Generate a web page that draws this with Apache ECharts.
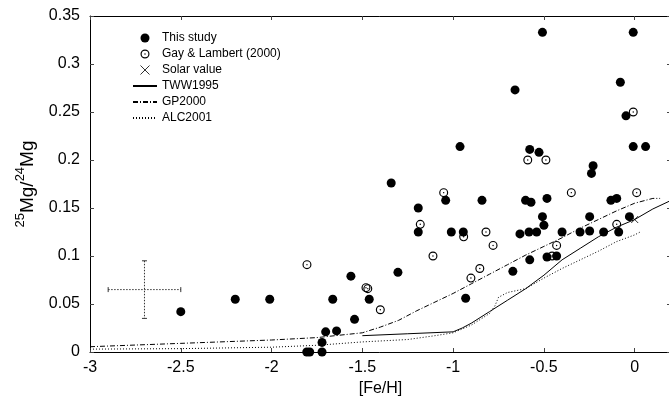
<!DOCTYPE html>
<html>
<head>
<meta charset="utf-8">
<script src="https://cdn.jsdelivr.net/npm/echarts@6/dist/echarts.min.js"></script>
<style>html,body{margin:0;padding:0;background:#fff}#c{width:669px;height:403px}</style>
</head>
<body>
<div id="c"></div>
<script>
// ---- data ----
const xTicks = [-3, -2.5, -2, -1.5, -1, -0.5, 0];
const yTicks = [0, 0.05, 0.1, 0.15, 0.2, 0.25, 0.3, 0.35];

const thisStudy = [
  [-2.50,0.042],[-2.20,0.055],[-2.01,0.055],[-1.806,0.000],[-1.79,0.000],[-1.722,0.000],
  [-1.722,0.010],[-1.702,0.021],[-1.642,0.022],[-1.663,0.055],[-1.563,0.079],[-1.543,0.034],
  [-1.462,0.055],[-1.341,0.176],[-1.304,0.083],[-1.192,0.150],[-1.192,0.125],[-1.041,0.158],
  [-1.010,0.125],[-0.962,0.214],[-0.944,0.125],[-0.931,0.056],[-0.841,0.158],[-0.671,0.084],
  [-0.659,0.273],[-0.632,0.123],[-0.601,0.158],[-0.578,0.211],[-0.582,0.125],[-0.578,0.096],
  [-0.571,0.156],[-0.540,0.125],[-0.527,0.208],[-0.508,0.333],[-0.508,0.141],[-0.500,0.132],
  [-0.483,0.160],[-0.483,0.099],[-0.430,0.100],[-0.400,0.125],[-0.301,0.125],[-0.248,0.141],
  [-0.248,0.126],[-0.238,0.186],[-0.229,0.194],[-0.171,0.125],[-0.131,0.158],[-0.099,0.160],
  [-0.088,0.125],[-0.079,0.281],[-0.048,0.246],[-0.029,0.141],[-0.008,0.333],[-0.008,0.214],
  [0.060,0.214]
];

const gayLambert = [
  [-1.805,0.091],[-1.48,0.067],[-1.47,0.066],[-1.401,0.044],[-1.181,0.133],[-1.111,0.100],
  [-1.052,0.166],[-0.942,0.120],[-0.902,0.077],[-0.853,0.087],[-0.819,0.125],[-0.780,0.111],
  [-0.589,0.200],[-0.489,0.200],[-0.455,0.100],[-0.430,0.111],[-0.349,0.166],[-0.099,0.133],
  [-0.008,0.250],[0.011,0.166]
];

const solarValue = [[0.0, 0.138]];

const tww1995 = [
  [-1.5,0.017],[-1.25,0.019],[-1.0,0.021],[-0.95,0.025],[-0.9,0.030],[-0.8,0.042],
  [-0.7,0.054],[-0.6,0.066],[-0.5,0.080],[-0.4,0.096],[-0.3,0.108],[-0.2,0.120],
  [-0.1,0.130],[0.0,0.138],[0.1,0.149],[0.19,0.157]
];

const gp2000 = [
  [-3.0,0.0055],[-2.5,0.009],[-2.0,0.0125],[-1.75,0.015],[-1.5,0.020],[-1.4,0.026],
  [-1.3,0.033],[-1.2,0.043],[-1.1,0.052],[-1.0,0.061],[-0.9,0.071],[-0.8,0.081],
  [-0.7,0.091],[-0.6,0.101],[-0.5,0.110],[-0.4,0.119],[-0.3,0.129],[-0.2,0.138],
  [-0.1,0.147],[0.0,0.155],[0.1,0.160],[0.14,0.160]
];

const alc2001 = [
  [-3.0,0.003],[-2.5,0.0035],[-2.0,0.005],[-1.75,0.007],[-1.5,0.0105],[-1.25,0.013],
  [-1.1,0.017],[-1.0,0.020],[-0.9,0.028],[-0.8,0.040],[-0.77,0.048],[-0.75,0.057],
  [-0.7,0.062],[-0.6,0.066],[-0.5,0.077],[-0.4,0.087],[-0.3,0.096],[-0.2,0.105],
  [-0.1,0.115],[0.0,0.122],[0.03,0.125]
];

// typical error: [x, y, dx, dy]
const errorBar = [[-2.7, 0.065, 0.2, 0.03]];

// ---- chart ----
const FONT = 'Liberation Sans';
const openDot = 'path://M10 0A10 10 0 1 1 9.99 0Z M10 2.6A7.4 7.4 0 1 0 10.01 2.6Z M10 8.4A1.6 1.6 0 1 1 9.99 8.4Z';
const cross = 'path://M0 0L10 10M10 0L0 10';

const chart = echarts.init(document.getElementById('c'), null, {renderer: 'canvas'});

function fmtX(v) {
  return xTicks.some(t => Math.abs(t - v) < 1e-9) ? String(v) : '';
}

const axisCommon = {
  axisLine: {show: true, onZero: false, lineStyle: {color: '#000', width: 1}},
  axisTick: {show: true, inside: true, length: 4, lineStyle: {color: '#444', width: 1}},
  splitLine: {show: false},
  minorTick: {show: false}
};

const hideSym = {opacity: 0, color: 'transparent', borderWidth: 0};

chart.setOption({
  animation: false,
  backgroundColor: '#fff',
  textStyle: {fontFamily: FONT, color: '#000'},
  grid: {left: 90, right: -2, top: 16, bottom: 51, containLabel: false, outerBoundsMode: 'none'},
  legend: {
    orient: 'vertical',
    left: 127, top: 26,
    itemWidth: 24, itemHeight: 9, itemGap: 2,
    textStyle: {fontFamily: FONT, fontSize: 12, color: '#000', lineHeight: 14},
    data: [
      {name: 'This study', icon: 'circle'},
      {name: 'Gay & Lambert (2000)', icon: openDot},
      {name: 'Solar value', icon: cross, itemStyle: {color: 'none', borderColor: '#000', borderWidth: 1}},
      {name: 'TWW1995', itemStyle: hideSym},
      {name: 'GP2000', itemStyle: hideSym},
      {name: 'ALC2001', itemStyle: hideSym}
    ],
    selectedMode: false
  },
  xAxis: [
    Object.assign({}, axisCommon, {
      type: 'value', position: 'bottom', min: -3, max: 0.2, interval: 0.5,
      axisLabel: {fontFamily: FONT, fontSize: 16, color: '#000', margin: 8, formatter: fmtX, showMaxLabel: false},
      name: '[Fe/H]', nameLocation: 'middle', nameGap: 26,
      nameTextStyle: {fontFamily: FONT, fontSize: 16, color: '#000'}
    }),
    Object.assign({}, axisCommon, {
      type: 'value', position: 'top', min: -3, max: 0.2, interval: 0.5,
      axisLabel: {show: false}
    })
  ],
  yAxis: [
    Object.assign({}, axisCommon, {
      type: 'value', position: 'left', min: 0, max: 0.35, interval: 0.05,
      axisLabel: {fontFamily: FONT, fontSize: 16, color: '#000', margin: 10,
        formatter: v => yTicks.some(t => Math.abs(t - v) < 1e-9) ? String(+v.toFixed(2)) : ''},
      name: '{sup|25}{n|Mg/}{sup|24}{n|Mg}', nameLocation: 'middle', nameGap: 53,
      nameTextStyle: {fontFamily: FONT, fontSize: 19, color: '#000',
        rich: {
          sup: {fontFamily: FONT, fontSize: 13, lineHeight: 13, verticalAlign: 'top', color: '#000'},
          n: {fontFamily: FONT, fontSize: 19, lineHeight: 23, verticalAlign: 'bottom', color: '#000'}
        }}
    }),
    Object.assign({}, axisCommon, {
      type: 'value', position: 'right', min: 0, max: 0.35, interval: 0.05,
      axisLabel: {show: false}
    })
  ],
  series: [
    {
      name: 'TWW1995', type: 'line', data: tww1995, symbol: 'none', showSymbol: false,
      lineStyle: {color: '#000', width: 1, type: 'solid'}, itemStyle: {color: '#000'}, z: 2
    },
    {
      name: 'GP2000', type: 'line', data: gp2000, symbol: 'none', showSymbol: false,
      lineStyle: {color: '#000', width: 1, type: [5, 2, 1, 2]}, itemStyle: {color: '#000'}, z: 2
    },
    {
      name: 'ALC2001', type: 'line', data: alc2001, symbol: 'none', showSymbol: false,
      lineStyle: {color: '#000', width: 1, type: [1, 2]}, itemStyle: {color: '#000'}, z: 2
    },
    {
      name: 'errorbar', type: 'custom', data: errorBar, z: 2, silent: true,
      renderItem: function (params, api) {
        const cx = api.value(0), cy = api.value(1), dx = api.value(2), dy = api.value(3);
        const l = api.coord([cx - dx, cy]), r = api.coord([cx + dx, cy]);
        const t = api.coord([cx, cy + dy]), b = api.coord([cx, cy - dy]);
        const st = {stroke: '#333', lineWidth: 1, lineDash: [1.5, 1.5]};
        const cap = {stroke: '#333', lineWidth: 1};
        const c = 2.5;
        return {type: 'group', children: [
          {type: 'line', shape: {x1: l[0], y1: l[1], x2: r[0], y2: r[1]}, style: st},
          {type: 'line', shape: {x1: t[0], y1: t[1], x2: b[0], y2: b[1]}, style: st},
          {type: 'line', shape: {x1: l[0], y1: l[1] - c, x2: l[0], y2: l[1] + c}, style: cap},
          {type: 'line', shape: {x1: r[0], y1: r[1] - c, x2: r[0], y2: r[1] + c}, style: cap},
          {type: 'line', shape: {x1: t[0] - c, y1: t[1], x2: t[0] + c, y2: t[1]}, style: cap},
          {type: 'line', shape: {x1: b[0] - c, y1: b[1], x2: b[0] + c, y2: b[1]}, style: cap}
        ]};
      }
    },
    {
      name: 'Solar value', type: 'scatter', data: solarValue, symbol: cross, symbolSize: 7,
      itemStyle: {color: 'none', borderColor: '#000', borderWidth: 1}, z: 3
    },
    {
      name: 'This study', type: 'scatter', data: thisStudy, symbol: 'circle', symbolSize: 9,
      itemStyle: {color: '#000', opacity: 1}, z: 4
    },
    {
      name: 'Gay & Lambert (2000)', type: 'scatter', data: gayLambert, symbol: openDot, symbolSize: 9,
      itemStyle: {color: '#000', opacity: 1}, z: 5
    }
  ]
});
</script>
</body>
</html>
